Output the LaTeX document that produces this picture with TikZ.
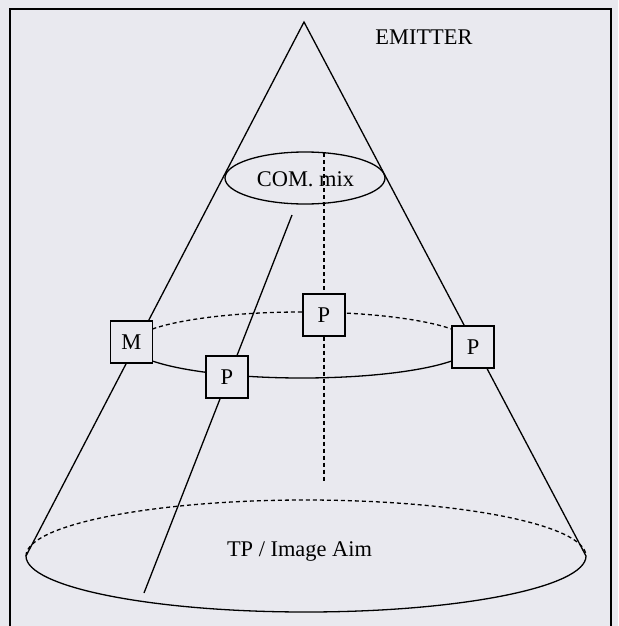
\documentclass[tikz,border=0pt]{standalone}
\usepackage{fontspec}
\setmainfont{Liberation Serif}
\usetikzlibrary{shapes.geometric}
\definecolor{paper}{RGB}{233,233,239}
\begin{document}
\begin{tikzpicture}[x=1pt,y=-1pt,
  ln/.style={line width=1.3pt,black},
  dsh/.style={ln,dash pattern=on 4pt off 3pt},
  pbox/.style={draw,line width=1.1pt,fill=paper,minimum size=42pt,inner sep=0pt,font=\fontsize{22.5}{22.5}\selectfont},
  lbl/.style={font=\fontsize{22.4}{22.4}\selectfont,inner sep=0pt}]
% page
\fill[paper] (0,0) rectangle (618,626);
\useasboundingbox (0,0) rectangle (618,626);
% frame
\draw[line width=1.6pt] (10,640) -- (10,9) -- (611,9) -- (611,640);

% cone
\coordinate (apex) at (304,22);
\coordinate (bl) at (26,556);
\coordinate (br) at (586,556);
\draw[ln] (bl) -- (apex) -- (br);

% base ellipse: far half dashed, near half solid
\draw[dsh] (bl) arc[start angle=180,end angle=0,x radius=280pt,y radius=56pt];
\draw[ln] (bl) arc[start angle=180,end angle=360,x radius=280pt,y radius=56pt];

% inner line
\coordinate (ia) at (292,215);
\coordinate (ib) at (144,593);
\draw[ln] (ia) -- (ib);

% middle ellipse
\coordinate (ml) at (131,345);
\draw[dsh] (ml) arc[start angle=180,end angle=0,x radius=171pt,y radius=33pt];
\draw[ln] (ml) arc[start angle=180,end angle=360,x radius=171pt,y radius=33pt];

% communication mix ellipse
\node[draw,ln,ellipse,minimum width=160pt,minimum height=52pt,inner sep=0pt] (cm) at (305,178) {};
\node[lbl] (cmtext) at (305.5,179) {COM. mix};

% vertical dashed axis
\coordinate (axtop) at (324,153);
\coordinate (axbot) at (324,482);
\node[pbox] (p1) at (324,315) {P};
\draw[dsh] (axtop) -- (p1.north);
\draw[dsh] (p1.south) -- (axbot);

% boxes on the middle ring
\node[pbox] (m) at (131.5,342) {M};
\node[pbox] (p2) at (227,377) {P};
\node[pbox] (p3) at (473,347) {P};

% labels
\node[lbl] (emitter) at (424,37) {EMITTER};
\node[lbl] (tp) at (299.5,551) {TP / Image Aim};
\end{tikzpicture}
\end{document}
